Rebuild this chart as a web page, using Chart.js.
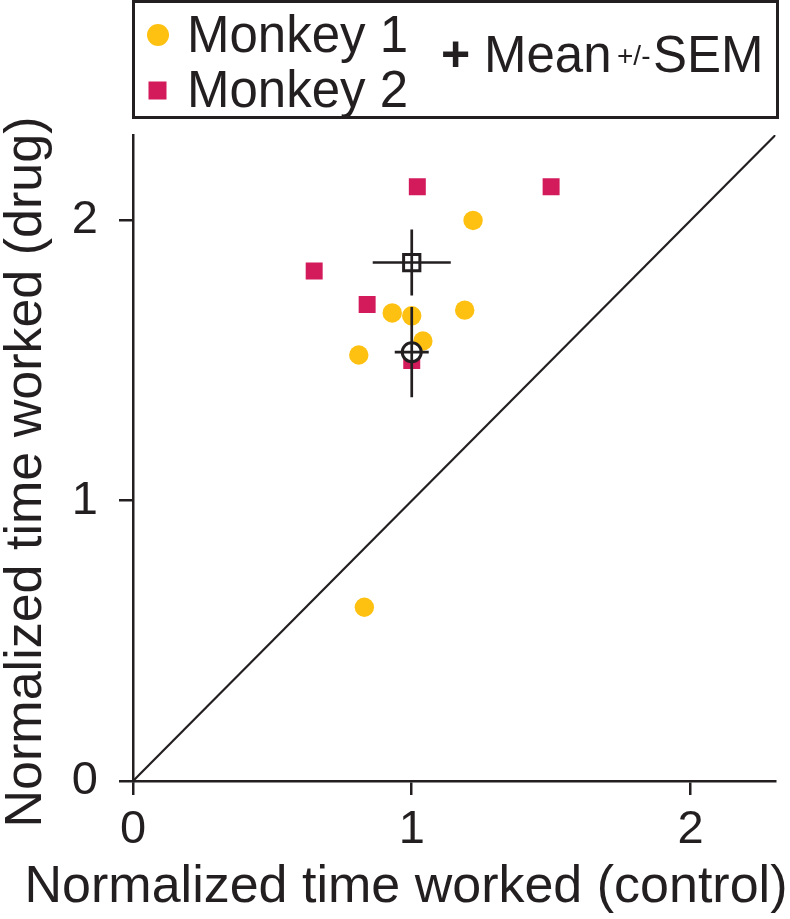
<!DOCTYPE html>
<html>
<head>
<meta charset="utf-8">
<script src="https://cdn.jsdelivr.net/npm/chart.js@4.4.0/dist/chart.umd.min.js"></script>
<style>
  body { margin: 0; background: #fff; }
  canvas { display: block; }
</style>
</head>
<body>
<canvas id="myChart" width="790" height="919"></canvas>
<script>
const ink = "#231f20";
const m1Color = "#fec111";
const m2Color = "#d31b5b";

// values
const monkey1X = [1.22, 0.93, 1.00, 1.19, 1.04, 0.81, 0.83];
const monkey1Y = [2.00, 1.67, 1.66, 1.68, 1.57, 1.52, 0.62];
const monkey2X = [1.02, 1.50, 0.65, 0.84, 1.00];
const monkey2Y = [2.12, 2.12, 1.82, 1.70, 1.50];
const meanX = [1.00, 1.00];      // monkey 1, monkey 2
const meanY = [1.53, 1.85];
const semX = [0.061, 0.140];
const semY = [0.161, 0.118];
const axisMax = 2.305;
const tickValues = [0, 1, 2];

const pts = (xs, ys) => xs.map((x, i) => ({x: x, y: ys[i]}));

function errBar(i, horizontal) {
  const d = horizontal
    ? [{x: meanX[i] - semX[i], y: meanY[i]}, {x: meanX[i] + semX[i], y: meanY[i]}]
    : [{x: meanX[i], y: meanY[i] - semY[i]}, {x: meanX[i], y: meanY[i] + semY[i]}];
  return {data: d, showLine: true, pointRadius: 0, borderColor: ink, borderWidth: 2.7, order: 0};
}

const titlesAndLegend = {
  id: "titlesAndLegend",
  afterDraw(chart) {
    const ctx = chart.ctx;
    ctx.save();
    ctx.fillStyle = ink;
    ctx.strokeStyle = ink;

    // axis titles
    ctx.font = "52px 'Liberation Sans', Arial, sans-serif";
    ctx.textBaseline = "middle";
    ctx.textAlign = "center";
    ctx.fillText("Normalized time worked (control)", 406, 888);
    ctx.save();
    ctx.translate(41, 472);
    ctx.rotate(-Math.PI / 2);
    ctx.textBaseline = "alphabetic";
    ctx.fillText("Normalized time worked (drug)", 0, 0);
    ctx.restore();

    // legend box
    ctx.lineWidth = 3;
    ctx.strokeRect(133.5, 1.5, 644, 116);
    ctx.fillStyle = m1Color;
    ctx.beginPath();
    ctx.arc(158, 35, 11, 0, Math.PI * 2);
    ctx.fill();
    ctx.fillStyle = m2Color;
    ctx.fillRect(148.5, 81.5, 18, 18);

    ctx.fillStyle = ink;
    ctx.textAlign = "left";
    ctx.textBaseline = "alphabetic";
    ctx.font = "51px 'Liberation Sans', Arial, sans-serif";
    ctx.fillText("Monkey 1", 187, 52);
    ctx.fillText("Monkey 2", 187, 107);
    ctx.fillText("Mean", 484, 72);
    ctx.fillText("SEM", 653, 72);
    ctx.font = "28px 'Liberation Sans', Arial, sans-serif";
    ctx.fillText("+/-", 617, 65);
    ctx.font = "bold 50px 'Liberation Sans', Arial, sans-serif";
    ctx.fillText("+", 441, 71);
    ctx.restore();
  }
};

new Chart("myChart", {
  type: "scatter",
  data: {
    datasets: [
      errBar(0, true), errBar(0, false), errBar(1, true), errBar(1, false),
      {
        data: [{x: meanX[0], y: meanY[0]}],
        pointStyle: "circle", pointRadius: 9.5,
        backgroundColor: "#ffffff", borderColor: ink, borderWidth: 3, order: 1
      },
      {
        data: [{x: meanX[1], y: meanY[1]}],
        pointStyle: "rect", pointRadius: 11.5,
        backgroundColor: "#ffffff", borderColor: ink, borderWidth: 3, order: 1
      },
      {
        data: pts(monkey2X, monkey2Y),
        pointStyle: "rect", pointRadius: 12,
        backgroundColor: m2Color, borderWidth: 0, order: 2
      },
      {
        data: pts(monkey1X, monkey1Y),
        pointStyle: "circle", pointRadius: 9.7,
        backgroundColor: m1Color, borderWidth: 0, order: 3
      },
      {
        data: [{x: 0, y: 0}, {x: axisMax, y: axisMax}],
        showLine: true, pointRadius: 0, borderColor: ink, borderWidth: 2.2, order: 4
      }
    ]
  },
  options: {
    responsive: false,
    animation: false,
    devicePixelRatio: 1,
    layout: { padding: { top: 135, right: 12, left: 0, bottom: 0 } },
    plugins: { legend: { display: false }, tooltip: { enabled: false } },
    scales: {
      x: {
        type: "linear", min: 0, max: axisMax,
        afterBuildTicks: s => { s.ticks = tickValues.map(v => ({value: v})); },
        afterFit: s => { s.height = 138; },
        grid: { drawOnChartArea: false, tickLength: 14, color: ink, lineWidth: 2.5 },
        border: { color: ink, width: 2.5 },
        ticks: { color: ink, padding: 12, maxRotation: 0,
                 font: { size: 47, family: "'Liberation Sans', Arial, sans-serif", lineHeight: 1 } }
      },
      y: {
        type: "linear", min: 0, max: axisMax,
        afterBuildTicks: s => { s.ticks = tickValues.map(v => ({value: v})); },
        afterFit: s => { s.width = 133; },
        grid: { drawOnChartArea: false, tickLength: 14, color: ink, lineWidth: 2.5 },
        border: { color: ink, width: 2.5 },
        ticks: { color: ink, padding: 21,
                 font: { size: 47, family: "'Liberation Sans', Arial, sans-serif", lineHeight: 1 } }
      }
    }
  },
  plugins: [titlesAndLegend]
});
</script>
</body>
</html>
